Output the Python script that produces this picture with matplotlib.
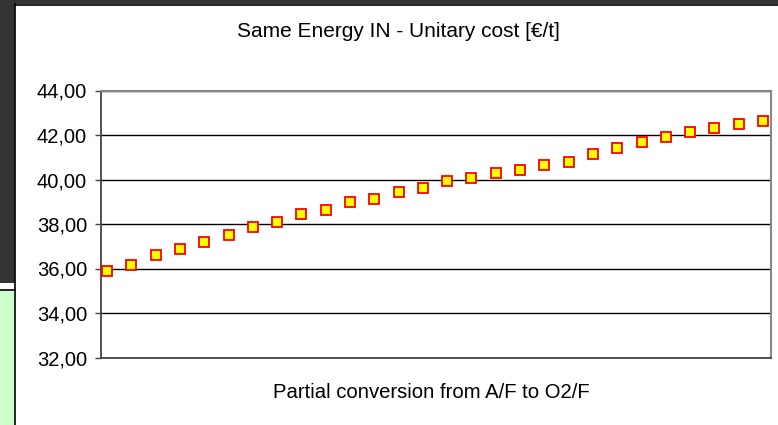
import matplotlib.pyplot as plt
from matplotlib.patches import Rectangle
from matplotlib.ticker import FuncFormatter

# unitary cost for each step of the partial conversion
steps = list(range(28))
cost = [35.88, 36.17, 36.60, 36.87, 37.21, 37.51, 37.86, 38.07, 38.43, 38.64,
        39.00, 39.13, 39.42, 39.63, 39.93, 40.06, 40.29, 40.42, 40.63, 40.77,
        41.13, 41.41, 41.70, 41.91, 42.12, 42.33, 42.48, 42.61]
y_ticks = [32, 34, 36, 38, 40, 42, 44]

title = "Same Energy IN - Unitary cost [€/t]"
x_label = "Partial conversion from A/F to O2/F"

plt.rcParams["font.family"] = ["Liberation Sans", "DejaVu Sans"]

W, H = 778, 425
fig = plt.figure(figsize=(W / 100, H / 100), dpi=100)
fig.patch.set_facecolor("white")

# screenshot surroundings: dark frame and green cell at the left
fig.patches.append(Rectangle((0, 1 - 4 / H), 1, 4 / H, transform=fig.transFigure,
                             facecolor="#333333", edgecolor="none", zorder=0))
fig.patches.append(Rectangle((0, 1 - 283 / H), 15 / W, 283 / H, transform=fig.transFigure,
                             facecolor="#333333", edgecolor="none", zorder=0))
fig.patches.append(Rectangle((0, 0), 15 / W, 1 - 291 / H, transform=fig.transFigure,
                             facecolor="#ccffcc", edgecolor="none", zorder=0))
fig.lines.append(plt.Line2D([0, 15 / W], [1 - 290 / H] * 2, transform=fig.transFigure,
                            color="black", lw=1.2))
fig.lines.append(plt.Line2D([15 / W] * 2, [0, 1 - 4 / H], transform=fig.transFigure,
                            color="black", lw=1.2))
fig.lines.append(plt.Line2D([15 / W, 1], [1 - 4.5 / H] * 2, transform=fig.transFigure,
                            color="black", lw=1.2))

ax = fig.add_axes([101 / W, 1 - 357.5 / H, 670 / W, 267 / H])
ax.plot(steps, cost, linestyle="none", marker="s", markersize=6.5,
        markerfacecolor="#ffff00", markeredgecolor="#ff0000", markeredgewidth=1.3,
        zorder=3)

ax.set_xlim(-0.25, 27.33)
ax.set_ylim(32, 44)
ax.set_yticks(y_ticks)
ax.yaxis.set_major_formatter(FuncFormatter(lambda v, p: f"{v:.2f}".replace(".", ",")))
ax.set_xticks([])
ax.grid(axis="y", color="black", linewidth=1)
ax.set_axisbelow(True)

for side in ["top", "right"]:
    ax.spines[side].set_color("#888888")
    ax.spines[side].set_linewidth(1.5)
ax.spines["left"].set_color("#444444")
ax.spines["left"].set_linewidth(1.3)
ax.spines["bottom"].set_color("#444444")
ax.spines["bottom"].set_linewidth(1.3)
ax.tick_params(axis="y", direction="out", length=4, width=1, color="#444444",
               labelsize=14.5, pad=6)

fig.text(398 / W, 1 - 31.5 / H, title, ha="center", va="center", fontsize=15)
fig.text(431 / W, 1 - 392 / H, x_label, ha="center", va="center", fontsize=14.6)

fig.savefig("out.png", dpi=100)
